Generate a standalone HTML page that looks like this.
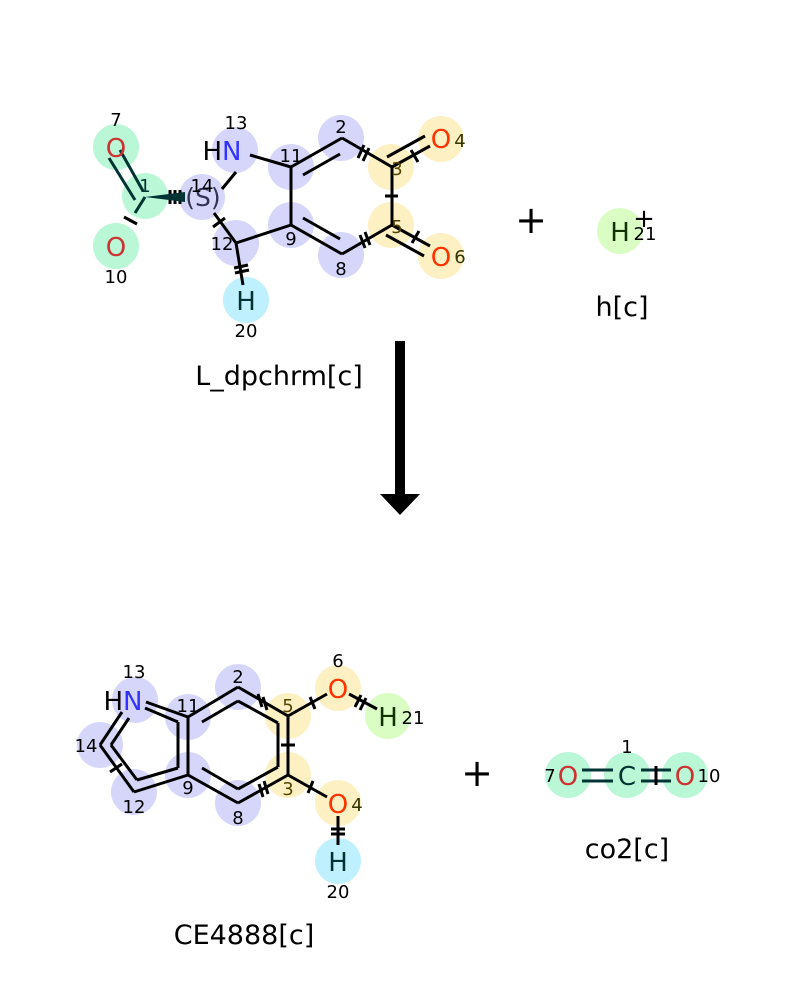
<!DOCTYPE html>
<html><head><meta charset="utf-8"><style>
html,body{margin:0;padding:0;background:#fff}
svg{display:block}
text{font-family:"DejaVu Sans","Liberation Sans",sans-serif}
</style></head><body>
<svg width="800" height="1000" viewBox="0 0 800 1000" xmlns="http://www.w3.org/2000/svg">
<rect width="800" height="1000" fill="#fff"/>
<g stroke="none">
<circle cx="116" cy="147" r="23" fill="#b9f7d6"/>
<circle cx="145" cy="196" r="23" fill="#b9f7d6"/>
<circle cx="116" cy="246" r="23" fill="#b9f7d6"/>
<circle cx="202" cy="197" r="23" fill="#d6d6fb"/>
<circle cx="235" cy="150" r="23" fill="#d6d6fb"/>
<circle cx="291" cy="167" r="23" fill="#d6d6fb"/>
<circle cx="341" cy="138" r="23" fill="#d6d6fb"/>
<circle cx="291" cy="225" r="23" fill="#d6d6fb"/>
<circle cx="341" cy="255" r="23" fill="#d6d6fb"/>
<circle cx="236" cy="243" r="23" fill="#d6d6fb"/>
<circle cx="391" cy="167" r="23" fill="#fdf0c3"/>
<circle cx="391" cy="225" r="23" fill="#fdf0c3"/>
<circle cx="441" cy="139" r="23" fill="#fdf0c3"/>
<circle cx="441" cy="256" r="23" fill="#fdf0c3"/>
<circle cx="246" cy="300" r="23" fill="#bff0fd"/>
<circle cx="620" cy="231" r="23" fill="#d9fdc3"/>
</g>
<g stroke="#000" stroke-width="3" fill="none">
<line x1="250" y1="155" x2="291" y2="167"/>
<line x1="222" y1="189" x2="236" y2="172"/>
<line x1="291" y1="167" x2="342" y2="138"/>
<line x1="303" y1="175" x2="340" y2="154"/>
<line x1="342" y1="138" x2="392" y2="167"/>
<line x1="392" y1="167" x2="392" y2="225"/>
<line x1="392" y1="225" x2="342" y2="254"/>
<line x1="342" y1="254" x2="291" y2="225"/>
<line x1="303" y1="218" x2="340" y2="239"/>
<line x1="291" y1="225" x2="291" y2="167"/>
<line x1="291" y1="225" x2="236" y2="243"/>
<line x1="236" y1="243" x2="214" y2="213"/>
<line x1="236" y1="243" x2="243" y2="285"/>
<line x1="392" y1="167" x2="430" y2="146"/>
<line x1="387" y1="157" x2="425" y2="136"/>
<line x1="392" y1="225" x2="430" y2="246"/>
<line x1="386" y1="235" x2="424" y2="256"/>
<line x1="120" y1="150" x2="143" y2="191" stroke="#033"/>
<line x1="109" y1="158" x2="135" y2="200" stroke="#033"/>
<line x1="145" y1="197" x2="135" y2="213" stroke="#033"/>
<line x1="124" y1="217" x2="137" y2="224"/>
<line x1="364" y1="145" x2="358" y2="158"/><line x1="369" y1="148" x2="363" y2="161"/>
<line x1="385" y1="196" x2="398" y2="196"/>
<line x1="365" y1="232" x2="370" y2="245"/><line x1="360" y1="235" x2="365" y2="248"/>
<line x1="411" y1="150" x2="418" y2="162"/>
<line x1="412" y1="243" x2="419" y2="231"/>
<line x1="213" y1="227" x2="225" y2="218"/>
<line x1="234" y1="268" x2="248" y2="265"/><line x1="235" y1="273" x2="249" y2="270"/>
<line x1="170" y1="190" x2="170" y2="204"/><line x1="175" y1="190" x2="175" y2="204"/><line x1="180" y1="190" x2="180" y2="204"/>
</g>
<polygon points="145,197 185,192 185,202" fill="#033"/>
<g font-size="26" text-anchor="middle">
<text x="116" y="157" fill="#c33">O</text>
<text x="116" y="256" fill="#c33">O</text>
<text x="222" y="160"><tspan fill="#000">H</tspan><tspan fill="#33f">N</tspan></text>
<text x="203" y="206" fill="#335" font-size="25">(S)</text>
<text x="441" y="148" fill="#f30">O</text>
<text x="441" y="266" fill="#f30">O</text>
<text x="246" y="310" fill="#033">H</text>
<text x="620" y="241" fill="#130">H</text>
</g>
<g font-size="18" text-anchor="middle" fill="#000">
<text x="116" y="126">7</text>
<text x="116" y="283">10</text>
<text x="236" y="129">13</text>
<text x="202" y="192">14</text>
<text x="291" y="162">11</text>
<text x="341" y="133">2</text>
<text x="397" y="175" fill="#540">3</text>
<text x="397" y="233" fill="#540">5</text>
<text x="460" y="147" fill="#330">4</text>
<text x="460" y="263" fill="#330">6</text>
<text x="291" y="245">9</text>
<text x="341" y="275">8</text>
<text x="222" y="250">12</text>
<text x="246" y="337">20</text>
<text x="645" y="240">21</text>
<text x="145" y="192" fill="#033">1</text>
</g>
<text x="644" y="227" font-size="26" text-anchor="middle">+</text>
<text x="531" y="233" font-size="38" text-anchor="middle">+</text>
<text x="622" y="316" font-size="27" text-anchor="middle">h[c]</text>
<text x="279" y="385" font-size="27" text-anchor="middle">L_dpchrm[c]</text>
<rect x="395" y="341" width="10" height="155" fill="#000"/>
<polygon points="380,494 420,494 400,515" fill="#000"/>
<g stroke="none">
<circle cx="135" cy="700" r="23" fill="#d6d6fb"/>
<circle cx="100" cy="745" r="23" fill="#d6d6fb"/>
<circle cx="134" cy="792" r="23" fill="#d6d6fb"/>
<circle cx="188" cy="775" r="23" fill="#d6d6fb"/>
<circle cx="188" cy="717" r="23" fill="#d6d6fb"/>
<circle cx="238" cy="687" r="23" fill="#d6d6fb"/>
<circle cx="238" cy="803" r="23" fill="#d6d6fb"/>
<circle cx="288" cy="716" r="23" fill="#fdf0c3"/>
<circle cx="288" cy="775" r="23" fill="#fdf0c3"/>
<circle cx="338" cy="688" r="23" fill="#fdf0c3"/>
<circle cx="338" cy="803" r="23" fill="#fdf0c3"/>
<circle cx="388" cy="716" r="23" fill="#d9fdc3"/>
<circle cx="338" cy="861" r="23" fill="#bff0fd"/>
<circle cx="568" cy="775" r="23" fill="#b9f7d6"/>
<circle cx="627" cy="775" r="23" fill="#b9f7d6"/>
<circle cx="685" cy="775" r="23" fill="#b9f7d6"/>
</g>
<g stroke="#000" stroke-width="3" fill="none">
<line x1="146" y1="702" x2="188" y2="717"/>
<line x1="188" y1="717" x2="188" y2="775"/>
<line x1="178" y1="722" x2="178" y2="768"/>
<line x1="145" y1="708" x2="178" y2="722"/>
<line x1="188" y1="775" x2="134" y2="792"/>
<line x1="178" y1="768" x2="137" y2="780"/>
<line x1="134" y1="792" x2="100" y2="745"/>
<line x1="137" y1="780" x2="111" y2="745"/>
<line x1="100" y1="745" x2="122" y2="712"/>
<line x1="111" y1="745" x2="129" y2="718"/>
<line x1="188" y1="717" x2="238" y2="687"/>
<line x1="202" y1="722" x2="238" y2="701"/>
<line x1="238" y1="687" x2="288" y2="716"/>
<line x1="238" y1="701" x2="278" y2="723"/>
<line x1="288" y1="716" x2="288" y2="775"/>
<line x1="278" y1="723" x2="278" y2="767"/>
<line x1="288" y1="775" x2="238" y2="803"/>
<line x1="278" y1="767" x2="238" y2="789"/>
<line x1="238" y1="803" x2="188" y2="775"/>
<line x1="238" y1="789" x2="202" y2="768"/>
<line x1="288" y1="716" x2="327" y2="694"/>
<line x1="349" y1="694" x2="377" y2="709"/>
<line x1="288" y1="775" x2="327" y2="797"/>
<line x1="338" y1="816" x2="338" y2="845"/>
<line x1="110" y1="772" x2="122" y2="764"/>
<line x1="258" y1="694" x2="262" y2="707"/><line x1="263" y1="697" x2="267" y2="710"/>
<line x1="281" y1="745" x2="295" y2="745"/>
<line x1="259" y1="784" x2="263" y2="797"/><line x1="264" y1="781" x2="268" y2="794"/>
<line x1="310" y1="697" x2="315" y2="709"/>
<line x1="308" y1="793" x2="313" y2="781"/>
<line x1="361" y1="695" x2="355" y2="707"/><line x1="366" y1="698" x2="360" y2="710"/>
<line x1="331" y1="829" x2="345" y2="829"/><line x1="331" y1="834" x2="345" y2="834"/>
<line x1="582" y1="770" x2="613" y2="770" stroke="#033"/>
<line x1="582" y1="781" x2="613" y2="781" stroke="#033"/>
<line x1="641" y1="770" x2="671" y2="770" stroke="#033"/>
<line x1="641" y1="781" x2="671" y2="781" stroke="#033"/>
<line x1="656" y1="766" x2="656" y2="785"/>
</g>
<g font-size="26" text-anchor="middle">
<text x="123" y="710"><tspan fill="#000">H</tspan><tspan fill="#33f">N</tspan></text>
<text x="338" y="698" fill="#f30">O</text>
<text x="338" y="813" fill="#f30">O</text>
<text x="388" y="726" fill="#130">H</text>
<text x="338" y="871" fill="#033">H</text>
<text x="568" y="785" fill="#c33">O</text>
<text x="627" y="785" fill="#033">C</text>
<text x="685" y="785" fill="#c33">O</text>
</g>
<g font-size="18" text-anchor="middle" fill="#000">
<text x="134" y="678">13</text>
<text x="86" y="752">14</text>
<text x="134" y="813">12</text>
<text x="188" y="794">9</text>
<text x="188" y="712">11</text>
<text x="238" y="683">2</text>
<text x="288" y="712" fill="#540">5</text>
<text x="288" y="795" fill="#540">3</text>
<text x="238" y="824">8</text>
<text x="338" y="667">6</text>
<text x="357" y="811" fill="#330">4</text>
<text x="413" y="724">21</text>
<text x="338" y="898">20</text>
<text x="550" y="782">7</text>
<text x="627" y="753">1</text>
<text x="709" y="782">10</text>
</g>
<text x="477" y="786" font-size="38" text-anchor="middle">+</text>
<text x="627" y="858" font-size="27" text-anchor="middle">co2[c]</text>
<text x="244" y="944" font-size="27" text-anchor="middle">CE4888[c]</text>
</svg>
</body></html>
